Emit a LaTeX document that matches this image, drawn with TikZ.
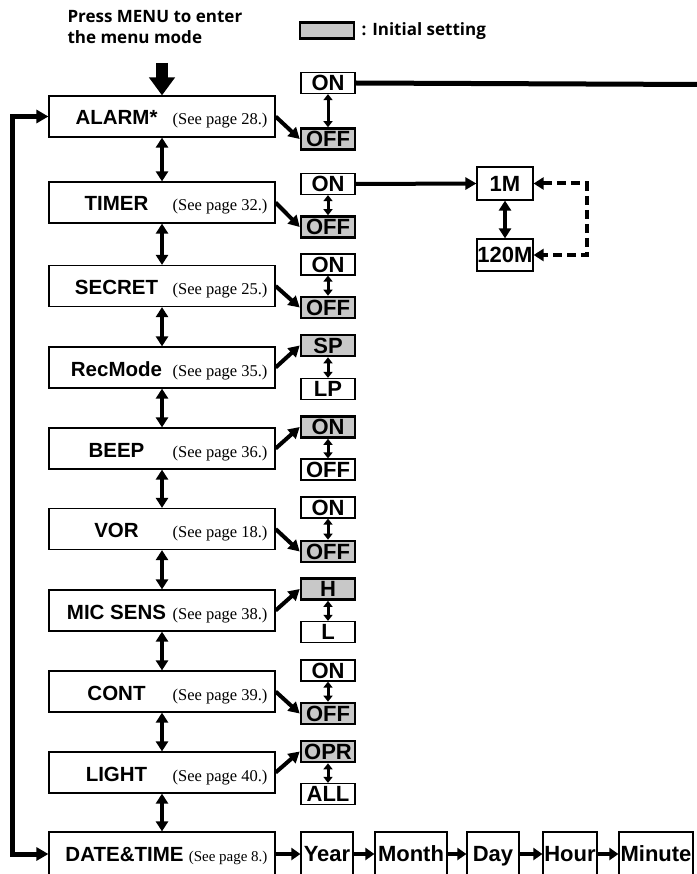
\documentclass[tikz,border=0pt]{standalone}
\usepackage{fontspec}
\setmainfont{Liberation Sans}
\newfontfamily\serfont{Liberation Serif}
\newfontfamily\hdfont{Open Sans}
\usetikzlibrary{arrows.meta, positioning, calc}
\definecolor{cSel}{RGB}{200,200,200}
\tikzset{
	menubox/.style ={rectangle, draw=black, line width=1.2pt, minimum width=226pt, minimum height=41pt, inner sep=0pt},
	menulbl/.style ={anchor=base, font=\bfseries\fontsize{20.5}{20.5}\selectfont},
	pagelbl/.style ={anchor=base east, font=\serfont\fontsize{16.5}{16.5}\selectfont},
	opt/.style     ={rectangle, draw=black, line width=1.2pt, minimum width=54pt, minimum height=21pt, inner sep=0pt, text height=15.5pt, text depth=0pt, font=\bfseries\fontsize{22}{22}\selectfont},
	optsel/.style  ={opt, fill=cSel, line width=2.6pt},
	rowbox/.style  ={rectangle, draw=black, line width=1.2pt, minimum height=44pt, inner sep=0pt, text height=15.8pt, text depth=0pt, font=\bfseries\fontsize{22}{22}\selectfont},
	hdr/.style     ={font=\hdfont\bfseries\fontsize{17}{21}\selectfont},
	% connectors
	dbl/.style     ={{Triangle[width=12pt,length=10pt]}-{Triangle[width=12pt,length=10pt]}, line width=4pt},
	optarr/.style  ={{Triangle[width=9pt,length=6pt]}-{Triangle[width=9pt,length=6pt]}, line width=3pt},
	diag/.style    ={-{Triangle[width=12pt,length=11pt]}, line width=4pt},
	flow/.style    ={-{Triangle[width=12pt,length=11pt]}, line width=4pt},
	rowarr/.style  ={-{Triangle[width=12pt,length=9pt]}, line width=4.5pt},
	retline/.style ={{Triangle[width=13pt,length=12pt]}-{Triangle[width=13pt,length=12pt]}, line width=5pt, line join=miter},
	dsh/.style     ={{Triangle[width=12pt,length=10pt]}-{Triangle[width=12pt,length=10pt]}, line width=4pt, dash pattern=on 9pt off 5pt},
	menuarr/.style ={-{Triangle[width=25pt,length=18pt]}, line width=12pt},
}
\begin{document}
\begin{tikzpicture}[x=1pt, y=-1pt]
	\useasboundingbox (0,0) rectangle (696,874);
	\node[hdr, anchor=north west, align=left] (press) at (64,7) {Press MENU to enter\\the menu mode};
	\node[optsel, minimum height=15pt] (key) at (327,30.5) {};
	\node[hdr, anchor=west] (keytxt) at (358,31) {: Initial setting};
	% menu items with their two settings
	\foreach \i/\nm/\yy/\pg/\ta/\tb/\ya/\yb/\sa/\sb/\g in {
		alarm/{ALARM*}/116.5/28/ON/OFF/83/139/opt/optsel/b,
		timer/TIMER/202.5/32/ON/OFF/184/227/opt/optsel/b,
		secret/SECRET/286/25/ON/OFF/264.5/307.5/opt/optsel/b,
		rec/RecMode/367.5/35/SP/LP/345.5/389/optsel/opt/a,
		beep/BEEP/448.5/36/ON/OFF/427/469.5/optsel/opt/a,
		vor/VOR/529/18/ON/OFF/507.5/551.5/opt/optsel/b,
		mic/{MIC SENS}/610.5/38/H/L/589/632/optsel/opt/a,
		cont/CONT/691.5/39/ON/OFF/670.5/713.5/opt/optsel/b,
		light/LIGHT/772.5/40/OPR/ALL/751.5/794/optsel/opt/a} {
		\node[menubox] (\i) at (162,\yy) {};
		\node[menulbl] (\i-n) at (116.5,\yy+8.5) {\nm};
		\node[pagelbl] (\i-p) at (271,\yy+8.5) {(See page \pg.)};
		\node[\sa] (\i-a) at (328,\ya) {\ta};
		\node[\sb] (\i-b) at (328,\yb) {\tb};
		\draw[optarr] (\i-a.south) -- (\i-b.north);
		\draw[diag] (\i.east) -- (\i-\g.west);
	}
	\node[menubox, minimum height=44pt] (date) at (162,854) {};
	\node[menulbl] (date-n) at (124.5,861) {DATE\&TIME};
	\node[pagelbl, font=\serfont\fontsize{15}{15}\selectfont] (date-p) at (271,861) {(See page 8.)};
	\foreach \n/\cx/\w/\t in {year/327/52/Year, month/411/72/Month, day/493/52/Day, hour/570/54/Hour, minute/656/74/Minute}
		\node[rowbox, minimum width=\w pt] (\n) at (\cx,854) {\t};
	\foreach \u/\v in {date/year, year/month, month/day, day/hour, hour/minute}
		\draw[rowarr] (\u.east) -- (\v.west);
	\foreach \u/\v in {alarm/timer, timer/secret, secret/rec, rec/beep, beep/vor, vor/mic, mic/cont, cont/light, light/date}
		\draw[dbl] (\u.south) -- (\v.north);
	% entry and return
	\coordinate (menu) at (162,63);
	\draw[menuarr] (menu) -- (alarm.north);
	\draw[retline] (alarm.west) -- ++(-36,0) |- (date.west);
	% alarm and timer settings
	\coordinate (alarmout) at (700,84.5);
	\draw[line width=5pt] (alarm-a.east) -- (alarmout);
	\node[rowbox, minimum width=56pt, minimum height=33pt] (m1) at (505,183.5) {1M};
	\node[rowbox, minimum width=56pt, minimum height=32pt] (m120) at (505,255) {120M};
	\draw[flow] (timer-a.east) -- (m1.west);
	\draw[dbl] (m1.south) -- (m120.north);
	\draw[dsh] (m1.east) -- ++(53,0) |- (m120.east);
\end{tikzpicture}
\end{document}
